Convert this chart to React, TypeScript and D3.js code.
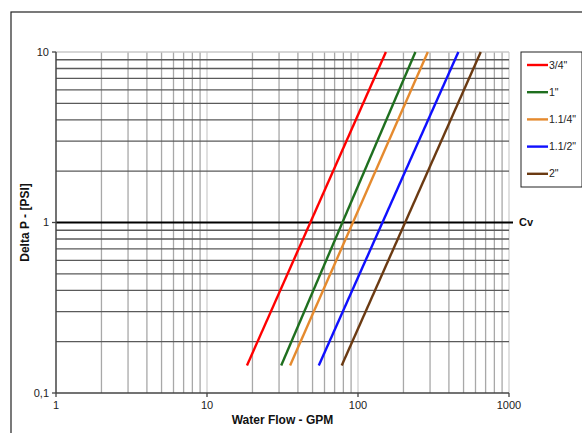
import React from "react";
import * as d3 from "d3";

const W = 582;
const H = 433;

const seriesNames = ['3/4"', '1"', '1.1/4"', '1.1/2"', '2"'];
const seriesColors = ["#ff0000", "#1f6f1f", "#e58a2e", "#1010ff", "#6b3a12"];
// pressure drop at the two ends of each line (PSI)
const dpEnds = [0.145, 10];
// flow (GPM) at the two ends of each line
const flowLow = [18.4, 31, 35.5, 55, 78];
const flowHigh = [153, 240, 290, 462, 650];

const xTicks = [1, 10, 100, 1000];
const xTickLabels = ["1", "10", "100", "1000"];
const yTicks = [0.1, 1, 10];
const yTickLabels = ["0,1", "1", "10"];

const margin = { left: 56, right: 73, top: 52, bottom: 40 };

export default function App() {
  const x = d3.scaleLog().domain([1, 1000]).range([margin.left, 509]);
  const y = d3.scaleLog().domain([0.1, 10]).range([393, margin.top]);

  const xMinor: number[] = [];
  for (const dec of [1, 10, 100]) for (let k = 2; k <= 9; k++) xMinor.push(dec * k);
  const yMinor: number[] = [];
  for (const dec of [0.1, 1]) for (let k = 2; k <= 9; k++) yMinor.push(+(dec * k).toFixed(2));

  const line = d3
    .line<[number, number]>()
    .x((d) => x(d[0]))
    .y((d) => y(d[1]));

  const font = "Arial, 'Liberation Sans', sans-serif";
  const [x0, x1] = x.range();
  const [y0, y1] = y.range();

  return (
    <svg
      width={W}
      height={H}
      style={{ position: "absolute", left: 0, top: 0, background: "#fff" }}
      fontFamily={font}
    >
      <rect x={11} y={12} width={W + 10} height={H + 10} fill="#fff" stroke="#222" strokeWidth={1.2} />
      {/* vertical grid */}
      {xMinor.map((v) => (
        <line key={"vx" + v} x1={x(v)} x2={x(v)} y1={y1} y2={y0} stroke="#a8a8a8" strokeWidth={1.3} />
      ))}
      {[10, 100, 1000].map((v) => (
        <line key={"vM" + v} x1={x(v)} x2={x(v)} y1={y1} y2={y0} stroke="#cfcfcf" strokeWidth={1.3} />
      ))}
      {/* horizontal grid */}
      {yMinor.map((v) => (
        <line key={"hy" + v} x1={x0} x2={x1} y1={y(v)} y2={y(v)} stroke="#5a5a5a" strokeWidth={1.4} />
      ))}
      <line x1={x0} x2={x1} y1={y(10)} y2={y(10)} stroke="#c8c8c8" strokeWidth={1.3} />
      <line x1={x0} x2={x1 + 4} y1={y(1)} y2={y(1)} stroke="#000" strokeWidth={2.2} />
      {/* axes */}
      <line x1={x0} x2={x0} y1={y1} y2={y0} stroke="#444" strokeWidth={1.5} />
      <line x1={x0} x2={x1} y1={y0} y2={y0} stroke="#444" strokeWidth={1.5} />
      {yTicks.map((v, i) => (
        <g key={"yt" + v}>
          <line x1={x0 - 4} x2={x0} y1={y(v)} y2={y(v)} stroke="#444" strokeWidth={1.3} />
          <text x={x0 - 7} y={y(v)} dy="0.35em" textAnchor="end" fontSize={11} fill="#222">
            {yTickLabels[i]}
          </text>
        </g>
      ))}
      {xTicks.map((v, i) => (
        <g key={"xt" + v}>
          <line x1={x(v)} x2={x(v)} y1={y0} y2={y0 + 4} stroke="#444" strokeWidth={1.3} />
          <text x={x(v)} y={y0 + 16} textAnchor="middle" fontSize={11} fill="#222">
            {xTickLabels[i]}
          </text>
        </g>
      ))}
      {/* series */}
      {seriesNames.map((n, i) => (
        <path
          key={n}
          d={line([
            [flowLow[i], dpEnds[0]],
            [flowHigh[i], dpEnds[1]],
          ]) as string}
          fill="none"
          stroke={seriesColors[i]}
          strokeWidth={2.4}
        />
      ))}
      <text x={x1 + 10} y={y(1)} dy="0.35em" fontSize={11} fontWeight="bold" fill="#111">
        Cv
      </text>
      {/* titles */}
      <text x={(x0 + x1) / 2} y={424} textAnchor="middle" fontSize={12} fontWeight="bold" fill="#111">
        Water Flow  - GPM
      </text>
      <text
        transform={`translate(29,${(y0 + y1) / 2}) rotate(-90)`}
        textAnchor="middle"
        fontSize={12}
        fontWeight="bold"
        fill="#111"
      >
        Delta P - [PSI]
      </text>
      {/* legend */}
      <rect x={521} y={52} width={61} height={135} fill="#fff" stroke="#222" strokeWidth={1} />
      {seriesNames.map((n, i) => {
        const ly = 65 + i * 27.2;
        return (
          <g key={"lg" + n}>
            <line x1={527} x2={548} y1={ly} y2={ly} stroke={seriesColors[i]} strokeWidth={2.4} />
            <text x={549} y={ly} dy="0.35em" fontSize={10.5} fill="#222">
              {n}
            </text>
          </g>
        );
      })}
    </svg>
  );
}
